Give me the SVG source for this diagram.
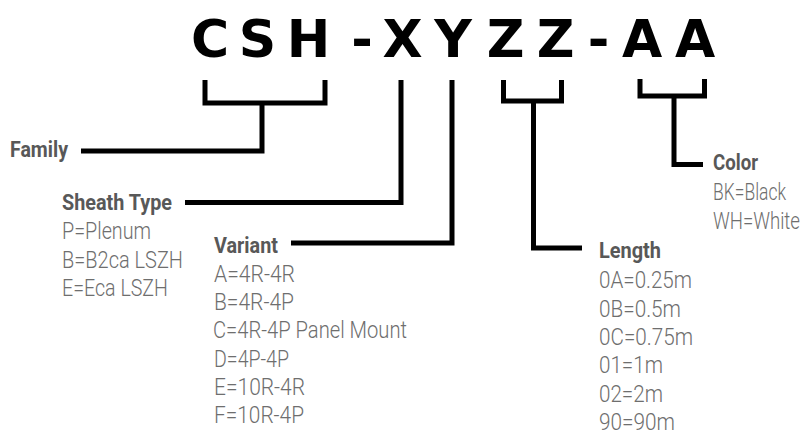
<svg xmlns="http://www.w3.org/2000/svg" width="806" height="430" viewBox="0 0 806 430">
<style>
.title{font-family:"DejaVu Sans",Verdana,sans-serif;font-weight:700;font-size:52px;fill:#000;text-anchor:middle}
.hd{font-family:Roboto,"Liberation Sans",sans-serif;font-weight:700;font-size:22.5px;fill:#585858}
.it{font-family:Roboto,"Liberation Sans",sans-serif;font-weight:300;font-size:23px;fill:#6e6e6e}
.ln{fill:none;stroke:#000;stroke-width:5;stroke-linejoin:miter;stroke-linecap:butt}
</style>
<rect width="806" height="430" fill="#fff"/>
<g id="title">
<text class="title" x="210 257.5 308.5 362 402.5 453 505.5 555.5 598.5 642 695" y="57">CSH-XYZZ-AA</text>
</g>
<g id="connectors">
<path class="ln" d="M205,80 V103 H325 V80"/>
<path class="ln" d="M262,103 V151 H81"/>
<path class="ln" d="M401,80 V202.5 H185"/>
<path class="ln" d="M452,80 V243 H291"/>
<path class="ln" d="M503.5,80 V101 H561.5 V80"/>
<path class="ln" d="M533.5,101 V248 H582"/>
<path class="ln" d="M640,79 V96 H704.5 V79"/>
<path class="ln" d="M674,96 V164.5 H703"/>
</g>
<g id="family">
<text class="hd" x="10" y="157" textLength="58" lengthAdjust="spacingAndGlyphs">Family</text>
</g>
<g id="sheath">
<text class="hd" x="62" y="210" textLength="110" lengthAdjust="spacingAndGlyphs">Sheath Type</text>
<text class="it" x="62" y="239" textLength="89" lengthAdjust="spacingAndGlyphs">P=Plenum</text>
<text class="it" x="62" y="267.5" textLength="121" lengthAdjust="spacingAndGlyphs">B=B2ca LSZH</text>
<text class="it" x="62" y="296" textLength="106" lengthAdjust="spacingAndGlyphs">E=Eca LSZH</text>
</g>
<g id="variant">
<text class="hd" x="214" y="253.3" textLength="64" lengthAdjust="spacingAndGlyphs">Variant</text>
<text class="it" x="214" y="282" textLength="81" lengthAdjust="spacingAndGlyphs">A=4R-4R</text>
<text class="it" x="214" y="310.2" textLength="80" lengthAdjust="spacingAndGlyphs">B=4R-4P</text>
<text class="it" x="213" y="338.4" textLength="194" lengthAdjust="spacingAndGlyphs">C=4R-4P Panel Mount</text>
<text class="it" x="214" y="366.6" textLength="75" lengthAdjust="spacingAndGlyphs">D=4P-4P</text>
<text class="it" x="214" y="394.8" textLength="91" lengthAdjust="spacingAndGlyphs">E=10R-4R</text>
<text class="it" x="214" y="423" textLength="90" lengthAdjust="spacingAndGlyphs">F=10R-4P</text>
</g>
<g id="length">
<text class="hd" x="599" y="258.3" textLength="62" lengthAdjust="spacingAndGlyphs">Length</text>
<text class="it" x="599" y="288.3" textLength="93" lengthAdjust="spacingAndGlyphs">0A=0.25m</text>
<text class="it" x="599" y="316.6" textLength="82" lengthAdjust="spacingAndGlyphs">0B=0.5m</text>
<text class="it" x="599" y="344.9" textLength="94" lengthAdjust="spacingAndGlyphs">0C=0.75m</text>
<text class="it" x="599" y="373.2" textLength="64" lengthAdjust="spacingAndGlyphs">01=1m</text>
<text class="it" x="599" y="401.5" textLength="64" lengthAdjust="spacingAndGlyphs">02=2m</text>
<text class="it" x="599" y="429.8" textLength="76" lengthAdjust="spacingAndGlyphs">90=90m</text>
</g>
<g id="color">
<text class="hd" x="713" y="170" textLength="45" lengthAdjust="spacingAndGlyphs">Color</text>
<text class="it" x="713" y="200" textLength="73" lengthAdjust="spacingAndGlyphs">BK=Black</text>
<text class="it" x="713" y="229" textLength="87" lengthAdjust="spacingAndGlyphs">WH=White</text>
</g>
</svg>
